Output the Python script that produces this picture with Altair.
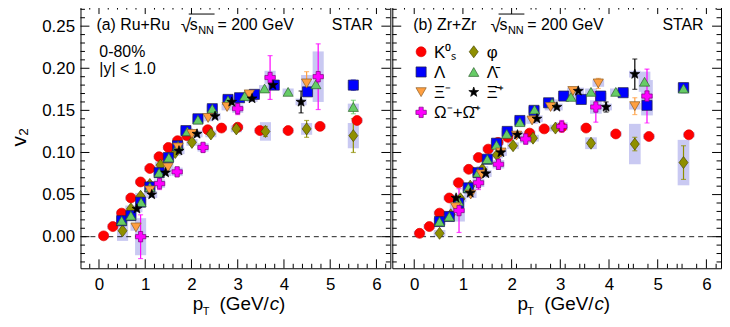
import altair as alt
import pandas as pd

FONT = "Liberation Sans"
W_L, W_R, H = 312, 331, 265
YDOM = [-0.0375, 0.275]
XDOM_L = [-0.4, 6.3]
XDOM_R = [-0.45, 6.3]

SPECIES = ["K0s", "phi", "Lambda", "AntiLambda", "Xi", "AntiXi", "Omega"]
LABELS = {"K0s": "K⁰ₛ", "phi": "φ", "Lambda": "Λ", "AntiLambda": "Λ̄", "Xi": "Ξ⁻", "AntiXi": "Ξ̄⁺",
          "Omega": "Ω⁻+Ω̄⁺"}
COLORS = {"K0s": "#FF0000", "phi": "#8F8F00", "Lambda": "#0000FF", "AntiLambda": "#66CC66",
          "Xi": "#FF9F40", "AntiXi": "#000000", "Omega": "#FF00FF"}
OUTLINES = {"K0s": "#E00000", "phi": "#4A4A00", "Lambda": "#222244", "AntiLambda": "#2F5F2F",
            "Xi": "#8A5A20", "AntiXi": "#000000", "Omega": "#7A007A"}
STAR = "M0,-1L0.2351,-0.3236L0.9511,-0.309L0.3804,0.1236L0.5878,0.809L0,0.4L-0.5878,0.809L-0.3804,0.1236L-0.9511,-0.309L-0.2351,-0.3236Z"
DIAMOND = "M0,-1.2L0.9,0L0,1.2L-0.9,0Z"
SHAPES = {"K0s": "circle", "phi": DIAMOND, "Lambda": "square", "AntiLambda": "triangle-up",
          "Xi": "triangle-down", "AntiXi": STAR, "Omega": "cross"}
SIZES = {"K0s": 100, "phi": 110, "Lambda": 85, "AntiLambda": 150, "Xi": 150, "AntiXi": 200, "Omega": 140}
# legend grid (column, row) of each species
LEG_COL = {"K0s": 0, "Lambda": 0, "Xi": 0, "Omega": 0, "phi": 1, "AntiLambda": 1, "AntiXi": 1}
LEG_ROW = {"K0s": 0, "Lambda": 1, "Xi": 2, "Omega": 3, "phi": 0, "AntiLambda": 1, "AntiXi": 2}

# ---- Ru+Ru (panel a) ----
RU = {
    "K0s": {"pt": [0.10, 0.30, 0.49, 0.69, 0.90, 1.10, 1.30, 1.50, 1.70, 1.90, 2.35, 2.65, 3.00, 3.48, 4.09, 4.78, 5.58],
            "v2": [0.001, 0.012, 0.028, 0.046, 0.065, 0.081, 0.095, 0.106, 0.114, 0.120, 0.127, 0.129, 0.130, 0.126, 0.126, 0.131, 0.138],
            "err": [0, 0, 0, 0, 0, 0, 0, 0, 0, 0, 0, 0, 0, 0, 0, 0, 0.004],
            "sys": [0.003] * 17},
    "phi": {"pt": [0.51, 0.69, 0.90, 1.10, 1.33, 1.65, 2.01, 2.42, 2.97, 3.60, 4.49, 5.50],
            "v2": [0.007, 0.033, 0.048, 0.062, 0.085, 0.100, 0.112, 0.122, 0.128, 0.125, 0.128, 0.120],
            "err": [0, 0, 0, 0, 0, 0, 0, 0, 0, 0.006, 0.010, 0.020],
            "sys": [0.012, 0.004, 0.004, 0.004, 0.004, 0.004, 0.004, 0.004, 0.004, 0.011, 0.007, 0.015]},
    "Lambda": {"pt": [0.49, 0.69, 0.90, 1.10, 1.30, 1.50, 1.70, 1.88, 2.14, 2.45, 2.79, 3.04, 3.36, 3.79, 4.51, 5.50],
               "v2": [0.019, 0.025, 0.041, 0.059, 0.076, 0.094, 0.108, 0.126, 0.140, 0.152, 0.163, 0.165, 0.169, 0.180, 0.172, 0.180],
               "err": [0] * 15 + [0.006],
               "sys": [0.004] * 16},
    "AntiLambda": {"pt": [0.49, 0.69, 0.91, 1.10, 1.30, 1.51, 1.71, 1.91, 2.14, 2.45, 2.79, 3.15, 3.58, 4.09, 4.69, 5.50],
                   "v2": [0.019, 0.025, 0.041, 0.059, 0.076, 0.094, 0.108, 0.125, 0.139, 0.152, 0.162, 0.167, 0.176, 0.172, 0.181, 0.154],
                   "err": [0] * 15 + [0.008],
                   "sys": [0.004] * 16},
    "Xi": {"pt": [0.80, 1.10, 1.49, 1.71, 2.01, 2.36, 2.77, 3.25, 4.49],
           "v2": [0.011, 0.055, 0.082, 0.106, 0.122, 0.141, 0.154, 0.169, 0.182],
           "err": [0, 0, 0, 0, 0, 0, 0, 0, 0.014],
           "sys": [0.004] * 8 + [0.010]},
    "AntiXi": {"pt": [0.82, 1.14, 1.44, 1.73, 2.12, 2.51, 2.87, 3.31, 3.76, 4.37],
               "v2": [0.033, 0.050, 0.076, 0.102, 0.122, 0.143, 0.160, 0.164, 0.180, 0.160],
               "err": [0, 0, 0, 0, 0, 0, 0, 0, 0, 0.013],
               "sys": [0.004] * 10},
    "Omega": {"pt": [0.90, 1.31, 1.69, 2.25, 3.00, 3.70, 4.74],
              "v2": [0.000, 0.063, 0.077, 0.106, 0.152, 0.189, 0.190],
              "err": [0.026, 0.007, 0.005, 0.005, 0.007, 0.026, 0.039],
              "sys": [0.022, 0.005, 0.005, 0.005, 0.005, 0.008, 0.030]},
}

# ---- Zr+Zr (panel b) ----
ZR = {
    "K0s": {"pt": [0.11, 0.31, 0.52, 0.72, 0.91, 1.12, 1.32, 1.52, 1.72, 1.92, 2.37, 2.67, 3.03, 3.53, 4.14, 4.82, 5.64],
            "v2": [0.004, 0.012, 0.028, 0.046, 0.064, 0.080, 0.094, 0.104, 0.112, 0.118, 0.123, 0.128, 0.130, 0.129, 0.122, 0.119, 0.121],
            "err": [0] * 17,
            "sys": [0.003] * 17},
    "phi": {"pt": [0.52, 0.75, 0.95, 1.15, 1.40, 1.70, 2.03, 2.44, 2.90, 3.63, 4.53, 5.53],
            "v2": [0.004, 0.026, 0.045, 0.060, 0.080, 0.097, 0.108, 0.117, 0.129, 0.111, 0.110, 0.088],
            "err": [0, 0, 0, 0, 0, 0, 0, 0, 0, 0.004, 0.008, 0.020],
            "sys": [0.004] * 9 + [0.007, 0.024, 0.027]},
    "Lambda": {"pt": [0.52, 0.72, 0.91, 1.11, 1.31, 1.50, 1.69, 1.91, 2.17, 2.46, 2.76, 3.07, 3.43, 3.83, 4.29, 4.78, 5.53],
               "v2": [0.018, 0.024, 0.040, 0.058, 0.076, 0.092, 0.111, 0.125, 0.138, 0.150, 0.159, 0.167, 0.163, 0.167, 0.171, 0.156, 0.177],
               "err": [0] * 16 + [0.005],
               "sys": [0.004] * 15 + [0.012, 0.006]},
    "AntiLambda": {"pt": [0.52, 0.72, 0.91, 1.11, 1.31, 1.50, 1.69, 1.90, 2.17, 2.47, 2.83, 3.22, 3.63, 4.14, 4.73, 5.53],
                   "v2": [0.018, 0.024, 0.042, 0.058, 0.076, 0.092, 0.109, 0.122, 0.136, 0.151, 0.159, 0.166, 0.172, 0.172, 0.184, 0.176],
                   "err": [0] * 15 + [0.005],
                   "sys": [0.004] * 14 + [0.012, 0.006]},
    "Xi": {"pt": [0.85, 1.16, 1.38, 1.78, 2.10, 2.42, 2.80, 3.26, 3.78, 4.53],
           "v2": [0.035, 0.050, 0.074, 0.100, 0.120, 0.138, 0.154, 0.173, 0.182, 0.155],
           "err": [0] * 8 + [0.006, 0.010],
           "sys": [0.004] * 10},
    "AntiXi": {"pt": [0.86, 1.15, 1.47, 1.78, 2.12, 2.52, 2.93, 3.37, 3.94, 4.53],
               "v2": [0.046, 0.052, 0.075, 0.100, 0.121, 0.140, 0.154, 0.173, 0.154, 0.193],
               "err": [0] * 8 + [0.006, 0.018],
               "sys": [0.004] * 10},
    "Omega": {"pt": [0.92, 1.32, 1.73, 2.29, 3.03, 3.73, 4.78],
              "v2": [0.031, 0.064, 0.086, 0.116, 0.131, 0.154, 0.167],
              "err": [0.026, 0.008, 0.006, 0.006, 0.007, 0.018, 0.032],
              "sys": [0.013, 0.005, 0.005, 0.005, 0.005, 0.008, 0.019]},
}

X_MAJOR = [0, 1, 2, 3, 4, 5, 6]
Y_MAJOR = [0.0, 0.05, 0.10, 0.15, 0.20, 0.25]


def build(panel):
    rows = []
    for i, sp in enumerate(SPECIES):
        d = panel[sp]
        for j in range(len(d["pt"])):
            rows.append(dict(sp=LABELS[sp], o=i, pt=d["pt"][j], v2=d["v2"][j],
                             err=d["err"][j], sys=d["sys"][j]))
    return pd.DataFrame(rows)


DOM = [LABELS[s] for s in SPECIES]
CSCALE = alt.Scale(domain=DOM, range=[COLORS[s] for s in SPECIES])
OSCALE = alt.Scale(domain=DOM, range=[OUTLINES[s] for s in SPECIES])
SSCALE = alt.Scale(domain=DOM, range=[SHAPES[s] for s in SPECIES])
ZSCALE = alt.Scale(domain=DOM, range=[SIZES[s] for s in SPECIES])


def C():
    return alt.Color("sp:N", scale=CSCALE, legend=None)


def marker_enc():
    return dict(color=C(),
                stroke=alt.Stroke("sp:N", scale=OSCALE, legend=None),
                shape=alt.Shape("sp:N", scale=SSCALE, legend=None),
                size=alt.Size("sp:N", scale=ZSCALE, legend=None))


def make_panel(panel, xdom, width, show_y, with_legend, ann, title_x):
    df = build(panel)
    xs = alt.Scale(domain=xdom, nice=False, zero=False)
    ys = alt.Scale(domain=YDOM, nice=False, zero=False)
    xaxis = alt.Axis(values=X_MAJOR, title=None, ticks=False, tickSize=0, domain=False, grid=False,
                     labelFont=FONT, labelFontSize=17, labelPadding=8, labelFlush=False, labelColor="black")
    if show_y:
        yaxis = alt.Axis(values=Y_MAJOR, format=".2f", title="v₂", ticks=False, tickSize=0, domain=False,
                         grid=False, labelFont=FONT, labelFontSize=17, labelPadding=6, labelFlush=False,
                         labelColor="black", titleFont=FONT, titleFontSize=21, titleFontWeight="normal",
                         titlePadding=12, titleColor="black")
    else:
        yaxis = None

    def X(f):
        return alt.X(f, type="quantitative", scale=xs, axis=xaxis)

    def Y(f):
        return alt.Y(f, type="quantitative", scale=ys, axis=yaxis)

    base = alt.Chart(df).transform_calculate(
        xlo="datum.pt - 0.12", xhi="datum.pt + 0.12",
        ylo="datum.v2 - datum.sys", yhi="datum.v2 + datum.sys",
        elo="datum.v2 - datum.err", ehi="datum.v2 + datum.err")

    boxes = base.transform_filter("datum.sys > 0").mark_rect(color="#C9C9F2").encode(
        x=X("xlo"), x2="xhi", y=Y("ylo"), y2="yhi")
    errs = base.transform_filter("datum.err > 0").mark_rule(strokeWidth=1.2).encode(
        x=X("pt"), y=Y("elo"), y2="ehi", color=C())
    caps_lo = base.transform_filter("datum.err > 0").mark_tick(orient="horizontal", size=5, thickness=1.2).encode(
        x=X("pt"), y=Y("elo"), color=C())
    caps_hi = base.transform_filter("datum.err > 0").mark_tick(orient="horizontal", size=5, thickness=1.2).encode(
        x=X("pt"), y=Y("ehi"), color=C())
    pts = base.mark_point(filled=True, opacity=1, strokeWidth=0.7).encode(
        x=X("pt"), y=Y("v2"), order=alt.Order("o:Q"), **marker_enc())

    zero = alt.Chart(pd.DataFrame({"y": [0.0]})).mark_rule(
        strokeDash=[5, 4], color="#222222", strokeWidth=1).encode(y=Y("y"))

    # inside ticks (ROOT style)
    xmin = [round(xdom[0] + 0.2 * k, 1) for k in range(1, 40)]
    xmin = [v for v in xmin if v < xdom[1] and abs(v - round(v)) > 1e-6 and v > xdom[0] + 0.05]
    ymin = [round(-0.03 + 0.01 * k, 2) for k in range(31)]
    ymin = [v for v in ymin if abs(v * 20 - round(v * 20)) > 1e-6]
    layers_t = []
    for vals, ln in ((X_MAJOR, 9), (xmin, 4.5)):
        d = pd.DataFrame({"v": vals})
        layers_t.append(alt.Chart(d).mark_rule(color="black", strokeWidth=1).encode(
            x=X("v"), y=alt.value(H), y2=alt.value(H - ln)))
        layers_t.append(alt.Chart(d).mark_rule(color="black", strokeWidth=1).encode(
            x=X("v"), y=alt.value(0), y2=alt.value(ln)))
    for vals, ln in ((Y_MAJOR, 9), (ymin, 4.5)):
        d = pd.DataFrame({"v": vals})
        layers_t.append(alt.Chart(d).mark_rule(color="black", strokeWidth=1).encode(
            y=Y("v"), x=alt.value(0), x2=alt.value(ln)))
        layers_t.append(alt.Chart(d).mark_rule(color="black", strokeWidth=1).encode(
            y=Y("v"), x=alt.value(width), x2=alt.value(width - ln)))

    one = pd.DataFrame({"a": [0]})

    def txt(s, x, y, size=16, style="normal", align="left"):
        return alt.Chart(one).mark_text(align=align, baseline="alphabetic", font=FONT, fontSize=size,
                                        fontStyle=style, color="black").encode(
            x=alt.value(x), y=alt.value(y), text=alt.value(s))

    texts = []
    for s, x, y, size in ann:
        texts.append(txt(s, x, y, size))
    ox = title_x["sqrt"]
    texts.append(txt("√", ox, 27, 19))
    texts.append(txt("s", ox + 9, 25, 16))
    texts.append(txt("NN", ox + 17.5, 29, 11))
    texts.append(txt("= 200 GeV", ox + 37, 25, 16))
    texts.append(alt.Chart(one).mark_rule(color="black", strokeWidth=1).encode(
        x=alt.value(ox + 8), x2=alt.value(ox + 34), y=alt.value(9)))
    px = title_x["p"]
    ty = H + 42
    texts.append(txt("p", px, ty, 19))
    texts.append(txt("T", px + 10, ty + 5, 11))
    texts.append(txt("(GeV/", px + 27, ty, 19))
    texts.append(txt("c", px + 77.5, ty, 19, "italic"))
    texts.append(txt(")", px + 87, ty, 19))

    main = alt.layer(boxes, zero, errs, caps_lo, caps_hi, pts, *layers_t, *texts)
    if not with_legend:
        return main.properties(width=width, height=H)

    # legend drawn as a small grid of entries with its own position scales
    ldf = pd.DataFrame({"sp": [LABELS[s] for s in SPECIES],
                        "col": [LEG_COL[s] for s in SPECIES],
                        "row": [LEG_ROW[s] for s in SPECIES]})
    lx = alt.X("col:Q", scale=alt.Scale(domain=[0, 1], range=[29, 82]), axis=None)
    ly = alt.Y("row:Q", scale=alt.Scale(domain=[0, 3], range=[47, 108]), axis=None)
    lsym = alt.Chart(ldf).mark_point(filled=True, opacity=1, strokeWidth=0.7).encode(
        x=lx, y=ly, **marker_enc())
    llab = alt.Chart(ldf).mark_text(align="left", baseline="middle", dx=13, dy=1, font=FONT,
                                    fontSize=17, color="black").encode(x=lx, y=ly, text="sp:N")
    legend = alt.layer(lsym, llab)
    return alt.layer(main, legend).resolve_scale(x="independent", y="independent").properties(
        width=width, height=H)


left = make_panel(RU, XDOM_L, W_L, True, False,
                  [("(a) Ru+Ru", 16, 25, 16), ("STAR", 253, 25, 16), ("0-80%", 19, 52, 16),
                   ("|y| < 1.0", 19, 69, 16)],
                  {"sqrt": 101, "p": 113})
right = make_panel(ZR, XDOM_R, W_R, False, True,
                   [("(b) Zr+Zr", 21, 25, 16), ("STAR", 272, 25, 16)],
                   {"sqrt": 99, "p": 126})

chart = alt.hconcat(left, right, spacing=0).resolve_scale(
    color="independent", shape="independent", size="independent", stroke="independent"
).configure_view(stroke="black", strokeWidth=1).properties(
    padding={"left": 0, "top": -5, "right": 0, "bottom": 0}, background="white")

chart.save("out.html", embed_options={"renderer": "svg", "actions": False})
